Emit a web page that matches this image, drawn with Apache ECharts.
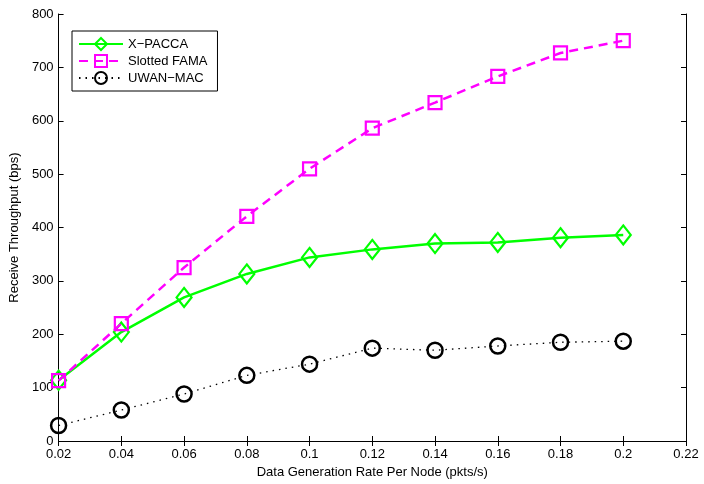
<!DOCTYPE html>
<html>
<head>
<meta charset="utf-8">
<script src="https://cdn.jsdelivr.net/npm/echarts@6/dist/echarts.min.js"></script>
<style>
  html, body { margin: 0; padding: 0; background: #fff; }
  #chart { width: 704px; height: 484px; }
</style>
</head>
<body>
<div id="chart"></div>
<script>
// Data generation rate per node (pkts/s)
const rates = [0.02, 0.04, 0.06, 0.08, 0.1, 0.12, 0.14, 0.16, 0.18, 0.2];
// Receive throughput (bps) per protocol
const xPacca = [114, 204, 269, 313, 344, 359, 370, 372, 381, 386];
const slottedFama = [113, 220, 325, 421, 510, 586, 634, 683, 727, 750];
const uwanMac = [29, 58, 88, 123, 144, 174, 170, 178, 185, 187];

const seriesNames = ['X\u2212PACCA', 'Slotted FAMA', 'UWAN\u2212MAC'];

const font = 'Liberation Sans, Arial, Helvetica, sans-serif';
const pairs = arr => rates.map((r, i) => [r, arr[i]]);

const chart = echarts.init(document.getElementById('chart'), null, { renderer: 'canvas' });

const baseAxis = {
  axisLine: { show: true, lineStyle: { color: '#000', width: 1 } },
  axisTick: { show: true, inside: true, length: 5, lineStyle: { color: '#000' } },
  splitLine: { show: false },
  axisLabel: { color: '#000', fontFamily: font, fontSize: 13 }
};

chart.setOption({
  animation: false,
  backgroundColor: '#fff',
  grid: { left: 58, right: 18, top: 14, bottom: 42 },
  legend: {
    left: 72, top: 31, orient: 'vertical',
    backgroundColor: '#fff', borderColor: '#000', borderWidth: 1, borderRadius: 0,
    padding: [6, 10, 6, 6], itemGap: 3, itemWidth: 44, itemHeight: 15,
    textStyle: { fontFamily: font, fontSize: 13, color: '#000' },
    data: seriesNames
  },
  xAxis: [
    Object.assign({}, baseAxis, {
      type: 'value', min: 0.02, max: 0.22, interval: 0.02,
      name: 'Data Generation Rate Per Node (pkts/s)', nameLocation: 'middle', nameGap: 25,
      nameTextStyle: { fontFamily: font, fontSize: 13, color: '#000' },
      axisLabel: Object.assign({}, baseAxis.axisLabel, {
        margin: 7, formatter: v => String(+v.toFixed(2))
      })
    }),
    Object.assign({}, baseAxis, {
      type: 'value', position: 'top', min: 0.02, max: 0.22, interval: 0.02,
      axisLabel: { show: false }
    })
  ],
  yAxis: [
    Object.assign({}, baseAxis, {
      type: 'value', min: 0, max: 800, interval: 100,
      name: 'Receive Throughput (bps)', nameLocation: 'middle', nameGap: 34,
      nameTextStyle: { fontFamily: font, fontSize: 13, color: '#000' },
      axisLabel: Object.assign({}, baseAxis.axisLabel, { margin: 5 })
    }),
    Object.assign({}, baseAxis, {
      type: 'value', position: 'right', min: 0, max: 800, interval: 100,
      axisLabel: { show: false }
    })
  ],
  series: [
    {
      name: seriesNames[0], type: 'line', data: pairs(xPacca),
      symbol: 'diamond', symbolSize: [15, 19], z: 3,
      lineStyle: { color: '#00ff00', width: 2.5, type: 'solid' },
      itemStyle: { color: 'rgba(0,0,0,0)', borderColor: '#00ff00', borderWidth: 2.2 }
    },
    {
      name: seriesNames[1], type: 'line', data: pairs(slottedFama),
      symbol: 'rect', symbolSize: 13, z: 4,
      lineStyle: { color: '#ff00ff', width: 2.5, type: [9, 6] },
      itemStyle: { color: 'rgba(0,0,0,0)', borderColor: '#ff00ff', borderWidth: 2.2 }
    },
    {
      name: seriesNames[2], type: 'line', data: pairs(uwanMac),
      symbol: 'circle', symbolSize: 15, z: 2,
      lineStyle: { color: '#000', width: 1.3, type: [1.5, 5] },
      itemStyle: { color: 'rgba(0,0,0,0)', borderColor: '#000', borderWidth: 2.5 }
    }
  ]
});
</script>
</body>
</html>
